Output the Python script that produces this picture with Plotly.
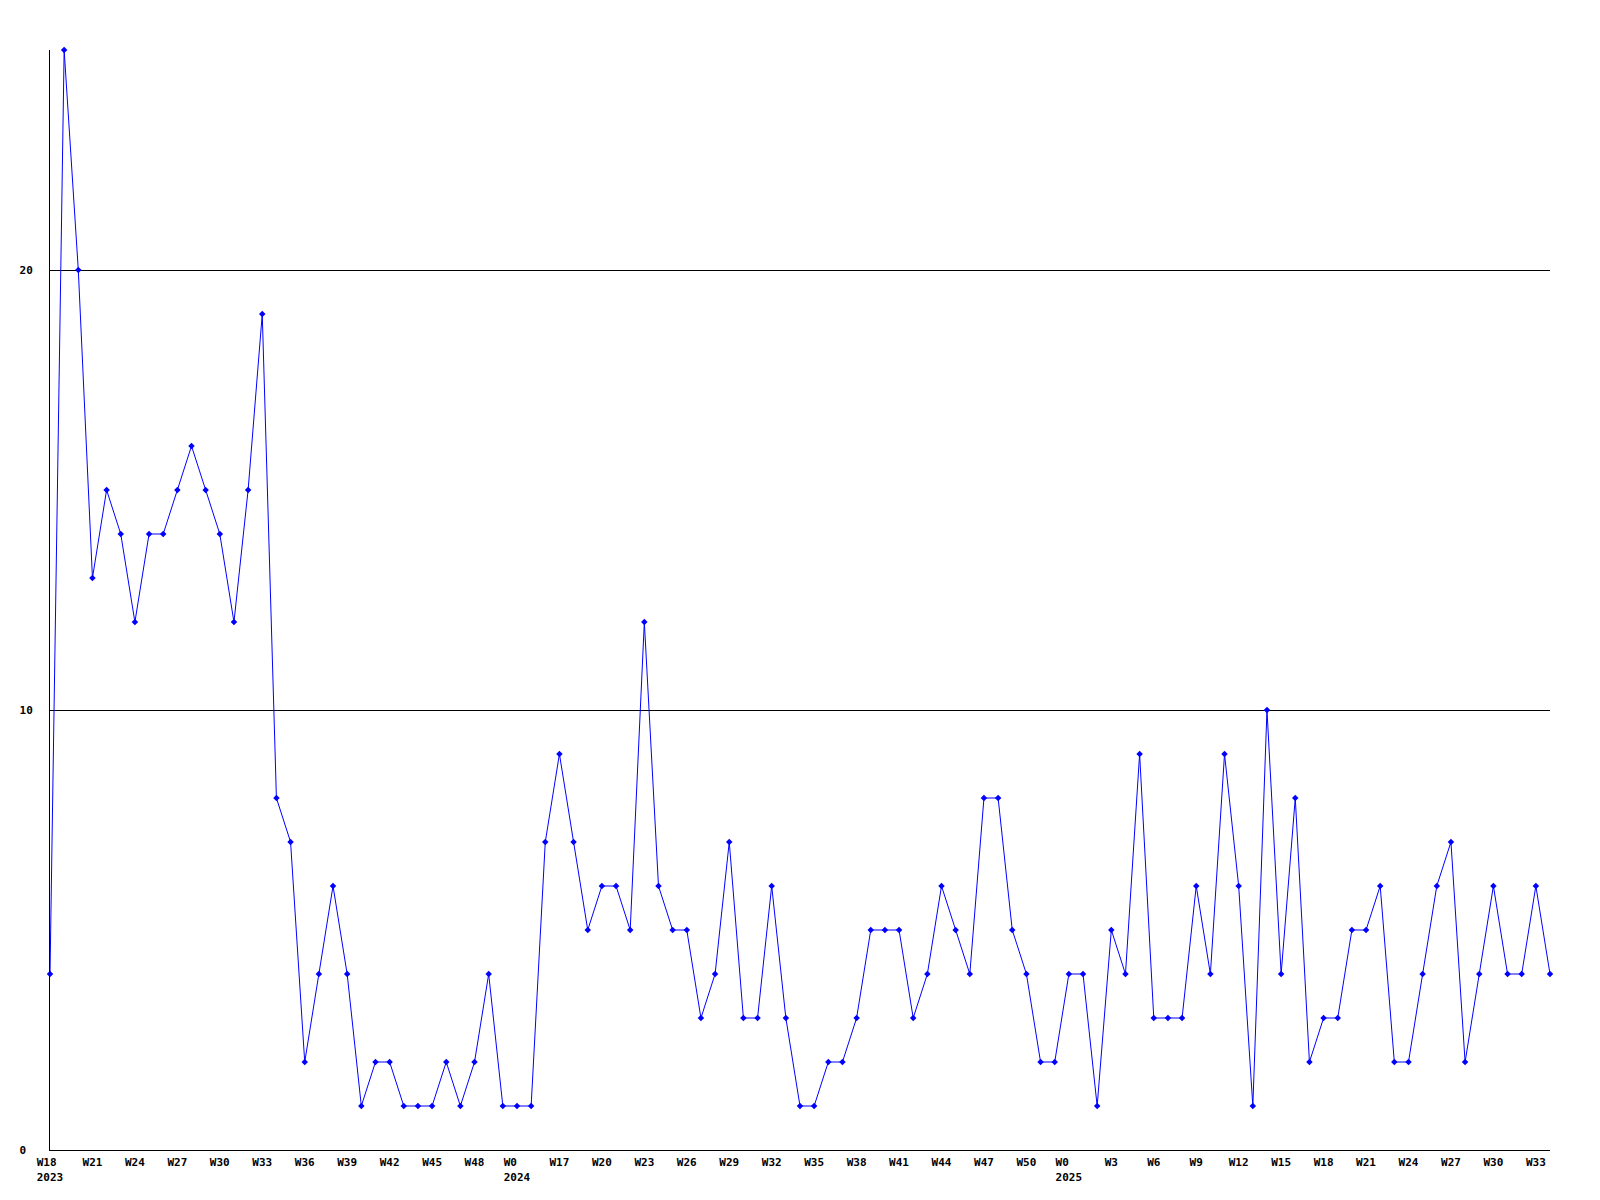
import plotly.graph_objects as go

# weekly values, in order (107 points)
values = [
    4, 25, 20, 13, 15, 14, 12, 14, 14, 15, 16, 15, 14, 12, 15, 19,
    8, 7, 2, 4, 6, 4, 1, 2, 2, 1, 1, 1, 2, 1, 2, 4, 1,
    1, 1, 7, 9, 7, 5, 6, 6, 5, 12, 6, 5, 5, 3, 4, 7, 3, 3,
    6, 3, 1, 1, 2, 2, 3, 5, 5, 5, 3, 4, 6, 5, 4, 8, 8,
    5, 4, 2, 2, 4, 4, 1, 5, 4, 9, 3, 3, 3, 6, 4, 9, 6, 1,
    10, 4, 8, 2, 3, 3, 5, 5, 6, 2, 2, 4, 6, 7, 2, 4, 6, 4, 4, 6, 4,
]
point_index = list(range(len(values)))

# x-axis tick labels: one on every third point
tick_labels = [
    "W18\u00a0<br>2023", "W21", "W24", "W27", "W30", "W33", "W36", "W39", "W42", "W45", "W48",
    "W0\u00a0\u00a0<br>2024", "W17", "W20", "W23", "W26", "W29", "W32", "W35", "W38", "W41",
    "W44", "W47", "W50", "W0\u00a0\u00a0<br>2025", "W3", "W6", "W9", "W12", "W15", "W18",
    "W21", "W24", "W27", "W30", "W33",
]
tick_step = 3
tick_positions = point_index[::tick_step]

y_ticks = [0, 10, 20]
y_tick_labels = ["0\u00a0", "10", "20"]

font = dict(family="DejaVu Sans Mono", size=11, color="black", weight="bold")

fig = go.Figure(
    go.Scatter(
        x=point_index,
        y=values,
        mode="lines+markers",
        line=dict(color="#0000ff", width=1),
        marker=dict(symbol="diamond", size=5, color="#0000ff"),
        cliponaxis=False,
        showlegend=False,
    )
)

fig.update_layout(
    width=1600,
    height=1200,
    margin=dict(l=42, r=58, t=42, b=58),
    paper_bgcolor="white",
    plot_bgcolor="white",
    font=font,
)
fig.update_xaxes(
    range=[0, 106],
    tickmode="array",
    tickvals=tick_positions,
    ticktext=tick_labels,
    showgrid=False,
    zeroline=False,
    showline=True,
    linecolor="black",
    linewidth=1,
    ticks="",
    tickfont=font,
    ticklabelstandoff=2,
)
fig.update_yaxes(
    range=[0, 25],
    tickmode="array",
    tickvals=y_ticks,
    ticktext=y_tick_labels,
    showgrid=True,
    gridcolor="black",
    gridwidth=1,
    zeroline=False,
    showline=True,
    linecolor="black",
    linewidth=1,
    ticks="",
    tickfont=font,
    ticklabelstandoff=14,
)

fig.write_html("out.html")
